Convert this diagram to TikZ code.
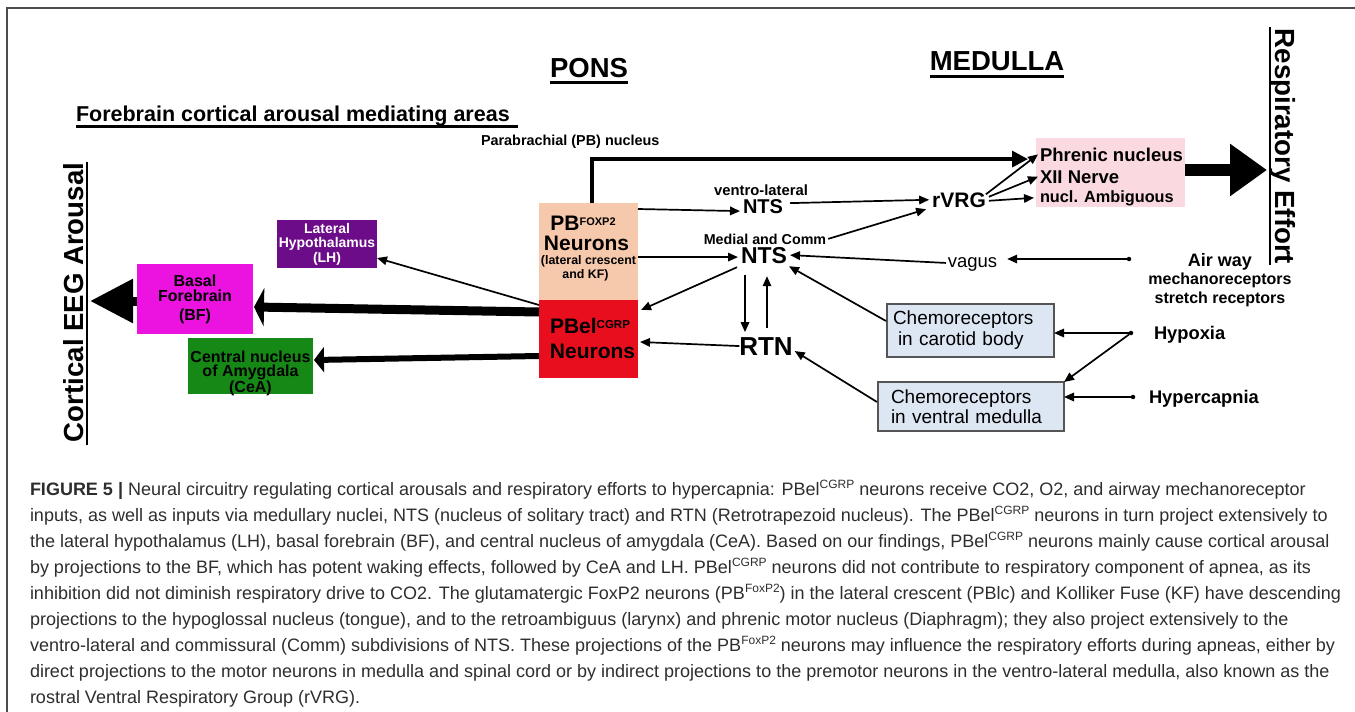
\documentclass[tikz,border=0pt]{standalone}
\usepackage{fontspec}
\setmainfont{Liberation Sans}
\usetikzlibrary{arrows.meta,calc}
\definecolor{pbfcol}{RGB}{246,200,172}
\definecolor{pbelcol}{RGB}{233,14,30}
\definecolor{lhcol}{RGB}{108,12,136}
\definecolor{bfcol}{RGB}{236,18,224}
\definecolor{ceacol}{RGB}{22,136,22}
\definecolor{phrcol}{RGB}{250,218,224}
\definecolor{chemocol}{RGB}{221,231,243}
\definecolor{chemoline}{RGB}{85,85,85}
\definecolor{capcol}{RGB}{45,45,45}
\newcommand{\fsz}[2]{\fontsize{#1}{#2}\selectfont}
\newcommand{\supr}[3]{\raisebox{#1pt}{\fsz{#2}{#2}#3}}
\begin{document}
\begin{tikzpicture}[x=1pt,y=-1pt,
  every node/.style={inner sep=0pt,outer sep=0pt},
  boxnode/.style={rectangle,inner sep=0pt},
  thinarr/.style={line width=1.7pt,-{Triangle[length=10pt,width=8.5pt]}},
  captxt/.style={anchor=base west,font=\fsz{18}{18},text=capcol},
  dotnode/.style={circle,fill=black,minimum size=4.5pt}
]
\useasboundingbox (0,0) rectangle (1355,712);
% frame
\draw[line width=1.5pt,black!70] (7,712) -- (7,8) -- (1355,8);

% headings
\node[anchor=base,font=\fsz{27.5}{27.5}\bfseries] (pons) at (589,77) {PONS};
\draw[line width=2.5pt] ($(pons.south west)+(0,5)$) -- ($(pons.south east)+(0,5)$);
\node[anchor=base,font=\fsz{27.5}{27.5}\bfseries] (med) at (997,70) {MEDULLA};
\draw[line width=2.5pt] ($(med.south west)+(0,6)$) -- ($(med.south east)+(0,6)$);
\node[anchor=base west,font=\fsz{21.5}{21.5}\bfseries] (fh) at (76,121) {Forebrain cortical arousal mediating areas};
\draw[line width=2.5pt] ($(fh.south west)+(0,1)$) -- ($(fh.south east)+(8,1)$);
\node[anchor=base west,font=\fsz{14.4}{14.4}\bfseries] (pbn) at (481,145) {Parabrachial (PB) nucleus};

% side labels
\node[rotate=90,anchor=base,font=\fsz{27.6}{27.6}\bfseries] (cort) at (83,302.5) {Cortical EEG Arousal};
\draw[line width=2.5pt] (87,162) -- (87,445);
\node[rotate=-90,anchor=base,font=\fsz{27.7}{27.7}\bfseries] (resp) at (1275,146.5) {Respiratory Effort};
\draw[line width=2.5pt] (1270,27) -- (1270,265);

% boxes
\node[boxnode,fill=lhcol,minimum width=100pt,minimum height=48pt,text=white,
  font=\fsz{14}{14.5}\bfseries,align=center] (lh) at (327,244) {Lateral\\Hypothalamus\\(LH)};
\node[boxnode,fill=bfcol,minimum width=116pt,minimum height=70pt,
  font=\fsz{16}{15}\bfseries,align=center] (bf) at (195,299) {Basal\\Forebrain\\[4pt](BF)};
\node[boxnode,fill=ceacol,minimum width=125pt,minimum height=56pt] (cea) at (250.5,366) {};
\node[font=\fsz{16}{14.2}\bfseries,align=center] (ceatxt) at (250.5,373) {Central nucleus\\of Amygdala\\(CeA)};

\node[boxnode,fill=pbfcol,minimum width=99pt,minimum height=97pt] (pbf) at (588.5,251.5) {};
\node[anchor=base,font=\fsz{21}{21}\bfseries] (pbf1) at (583,230) {PB\supr{5}{11}{FOXP2}};
\node[anchor=base,font=\fsz{21}{21}\bfseries] (pbf2) at (586.5,250) {Neurons};
\node[anchor=base,font=\fsz{12.4}{12.4}\bfseries] (pbf3) at (588.5,264) {(lateral crescent};
\node[anchor=base,font=\fsz{12.4}{12.4}\bfseries] (pbf4) at (585.5,278) {and KF)};

\node[boxnode,fill=pbelcol,minimum width=99pt,minimum height=78pt] (pbel) at (588.5,339) {};
\node[anchor=base,font=\fsz{21}{21}\bfseries] (pbel1) at (590,333) {PBel\supr{5}{11.5}{CGRP}};
\node[anchor=base,font=\fsz{21}{21}\bfseries] (pbel2) at (592.5,358) {Neurons};

\node[boxnode,fill=phrcol,minimum width=149pt,minimum height=69pt] (phr) at (1110.5,172.5) {};
\node[anchor=base west,font=\fsz{18.5}{18.5}\bfseries] (phr1) at (1040,161) {Phrenic nucleus};
\node[anchor=base west,font=\fsz{18.5}{18.5}\bfseries] (phr2) at (1040,183) {XII Nerve};
\node[anchor=base west,font=\fsz{16.3}{16.3}\bfseries] (phr3) at (1040,202) {nucl. Ambiguous};

\node[boxnode,fill=chemocol,draw=chemoline,line width=1.2pt,minimum width=167pt,minimum height=53pt,
  text width=155pt,inner xsep=6pt,align=left,font=\fsz{19}{21}] (cc) at (970.5,330.5)
  {Chemoreceptors\\\hspace*{5pt}in carotid body};
\node[boxnode,fill=chemocol,draw=chemoline,line width=1.2pt,minimum width=186pt,minimum height=49pt,
  text width=160pt,inner xsep=13pt,align=left,font=\fsz{19}{20.5}] (cv) at (971,406.5)
  {Chemoreceptors\\in ventral medulla};

% nuclei labels
\node[anchor=base,font=\fsz{14.8}{14.8}\bfseries] (vllab) at (761,195.5) {ventro-lateral};
\node[anchor=base,font=\fsz{20}{20}\bfseries] (ntsv) at (763,213) {NTS};
\node[anchor=base,font=\fsz{14.3}{14.3}\bfseries] (mclab) at (765,244) {Medial and Comm};
\node[anchor=base,font=\fsz{23}{23}\bfseries] (ntsm) at (764,263) {NTS};
\node[anchor=base,font=\fsz{26}{26}\bfseries] (rtn) at (766,355) {RTN};
\node[anchor=base,font=\fsz{21}{21}\bfseries] (rvrg) at (959,207) {rVRG};
\node[anchor=base,font=\fsz{18.5}{18.5}] (vagus) at (972.5,267) {vagus};

% inputs
\node[dotnode] (dair) at (1129,259) {};
\node[dotnode] (dhyp) at (1131,333) {};
\node[dotnode] (dhc) at (1133,397) {};
\node[anchor=base,font=\fsz{18}{18}\bfseries] (air1) at (1220,266) {Air way};
\node[anchor=base,font=\fsz{16}{16}\bfseries] (air2) at (1220,284) {mechanoreceptors};
\node[anchor=base,font=\fsz{16}{16}\bfseries] (air3) at (1220,303) {stretch receptors};
\node[anchor=base west,font=\fsz{18.3}{18.3}\bfseries] (hyp) at (1154,339) {Hypoxia};
\node[anchor=base west,font=\fsz{18.3}{18.3}\bfseries] (hcap) at (1149,403) {Hypercapnia};

\coordinate (ctip) at (90,301);
\coordinate (rtip) at (1267,170);

% heavy arrows
\draw[line width=9pt,-{Triangle[length=43pt,width=42pt]}] ($(bf.west)+(0,2)$) -- (ctip);
\draw[line width=12pt,-{Triangle[length=37pt,width=50pt]}] ($(phr.east)+(0,-2.5)$) -- (rtip);
\draw[line width=9pt,-{Triangle[length=10pt,width=38pt]}] ($(pbel.west)+(0,-27)$) -- ($(bf.east)+(1,8)$);
\draw[line width=6pt,-{Triangle[length=10pt,width=25pt]}] ($(pbel.west)+(0,17)$) -- ($(cea.east)+(1,-6)$);
\draw[line width=3.5pt,-{Triangle[length=16pt,width=16pt]}] ($(pbf.north)+(3.5,0)$) |- ($(phr1.west)+(-12,4.7)$);

% thin arrows
\draw[thinarr] ($(pbel.north west)+(0,5)$) -- ($(lh.south east)+(0,-10)$);
\draw[thinarr] ($(pbf.east)+(0,-42.5)$) -- ($(ntsv.west)+(-3,5)$);
\draw[thinarr] ($(pbf.east)+(0,5.5)$) -- ($(ntsm.west)+(-3,2)$);
\draw[thinarr] ($(ntsv.east)+(7,-3)$) -- ($(rvrg.west)+(-3,0)$);
\draw[thinarr] ($(mclab.east)+(2,0)$) -- ($(rvrg.south west)+(-6,2)$);
\draw[thinarr] ($(rvrg.north east)+(0,2)$) -- ($(phr1.west)+(-2,0)$);
\draw[thinarr] ($(rvrg.east)+(3,-3)$) -- ($(phr2.west)+(-2,0)$);
\draw[thinarr] ($(rvrg.east)+(3,1)$) -- ($(phr3.west)+(-6,0)$);
\draw[thinarr] (dair) -- ($(vagus.east |- dair)+(10,0)$);
\draw[thinarr] ($(vagus.west)+(-2,-1)$) -- ($(ntsm.east)+(3,0)$);
\draw[thinarr] ($(cc.north west)+(-1,17)$) -- ($(ntsm.south east)+(2,3)$);
\draw[thinarr] ($(cv.north west)+(-1,20)$) -- ($(rtn.east)+(2,5)$);
\draw[thinarr] ($(ntsm.south)+(-19,12)$) -- ($(rtn.north)+(-21,-5)$);
\draw[thinarr] ($(rtn.north)+(1,-9)$) -- ($(ntsm.south)+(3,13)$);
\draw[thinarr] (rtn.west) -- ($(pbel.east)+(2,3)$);
\draw[thinarr] ($(ntsm.south west)+(-4,4)$) -- ($(pbel.north east)+(3,10)$);
\draw[thinarr] (dhyp) -- (cc.east |- dhyp);
\draw[thinarr] (dhyp) -- (cv.north east);
\draw[thinarr] (dhc) -- (cv.east |- dhc);

% caption
\node[captxt] (cap1) at (30,495) {\textbf{FIGURE 5 |} Neural circuitry regulating cortical arousals and respiratory efforts to hypercapnia: PBel\supr{7}{12}{CGRP} neurons receive CO2, O2, and airway mechanoreceptor};
\node[captxt] (cap2) at (30,521) {inputs, as well as inputs via medullary nuclei, NTS (nucleus of solitary tract) and RTN (Retrotrapezoid nucleus). The PBel\supr{7}{12}{CGRP} neurons in turn project extensively to};
\node[captxt] (cap3) at (30,547) {the lateral hypothalamus (LH), basal forebrain (BF), and central nucleus of amygdala (CeA). Based on our findings, PBel\supr{7}{12}{CGRP} neurons mainly cause cortical arousal};
\node[captxt] (cap4) at (30,573) {by projections to the BF, which has potent waking effects, followed by CeA and LH. PBel\supr{7}{12}{CGRP} neurons did not contribute to respiratory component of apnea, as its};
\node[captxt] (cap5) at (30,599) {inhibition did not diminish respiratory drive to CO2. The glutamatergic FoxP2 neurons (PB\supr{7}{12}{FoxP2}) in the lateral crescent (PBlc) and Kolliker Fuse (KF) have descending};
\node[captxt] (cap6) at (30,625) {projections to the hypoglossal nucleus (tongue), and to the retroambiguus (larynx) and phrenic motor nucleus (Diaphragm); they also project extensively to the};
\node[captxt] (cap7) at (30,651) {ventro-lateral and commissural (Comm) subdivisions of NTS. These projections of the PB\supr{7}{12}{FoxP2} neurons may influence the respiratory efforts during apneas, either by};
\node[captxt] (cap8) at (30,677) {direct projections to the motor neurons in medulla and spinal cord or by indirect projections to the premotor neurons in the ventro-lateral medulla, also known as the};
\node[captxt] (cap9) at (30,703) {rostral Ventral Respiratory Group (rVRG).};
\end{tikzpicture}
\end{document}
